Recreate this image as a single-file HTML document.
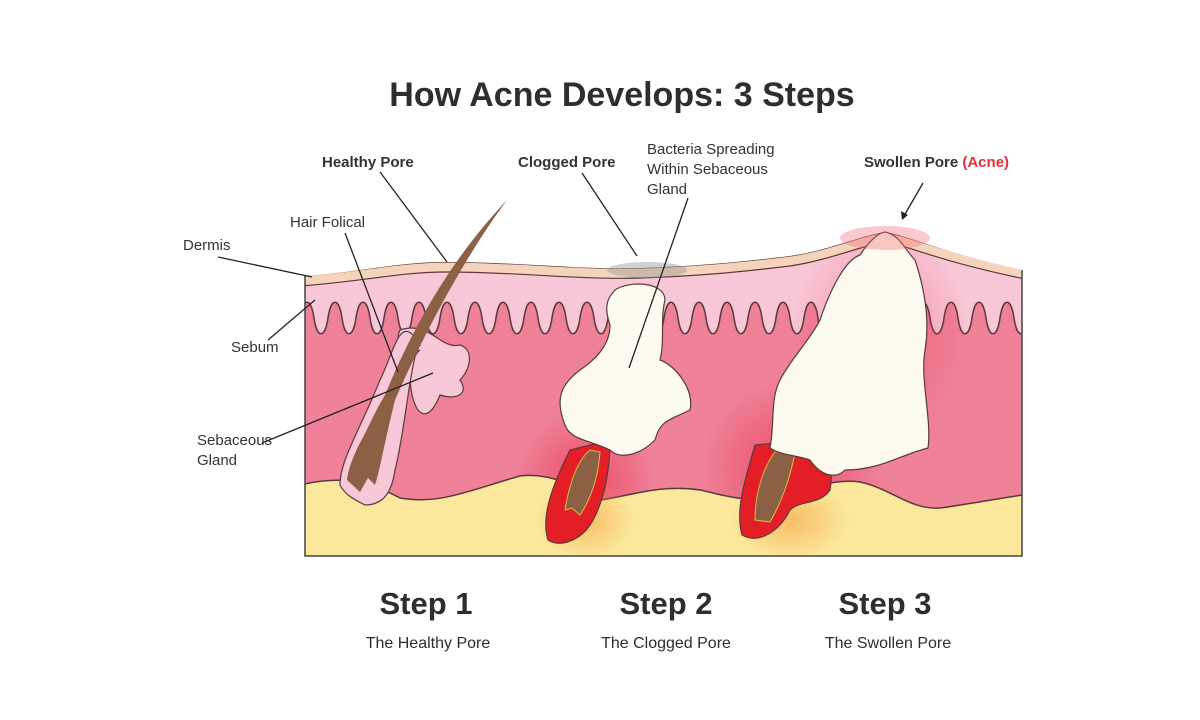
<!DOCTYPE html>
<html><head><meta charset="utf-8"><style>
html,body{margin:0;padding:0;background:#fff;}
svg{display:block;font-family:"Liberation Sans",sans-serif;}
</style></head><body>
<svg width="1200" height="720" viewBox="0 0 1200 720" xmlns="http://www.w3.org/2000/svg">
<defs>
<radialGradient id="glow" cx="0.5" cy="0.5" r="0.5"><stop offset="0" stop-color="#e8203a" stop-opacity="0.55"/><stop offset="1" stop-color="#e8203a" stop-opacity="0"/></radialGradient>
<radialGradient id="yglow" cx="0.5" cy="0.5" r="0.5"><stop offset="0" stop-color="#f5a040" stop-opacity="0.6"/><stop offset="1" stop-color="#f5a040" stop-opacity="0"/></radialGradient>
<clipPath id="box"><path d="M305 276 C360 272 400 262 445 262 C520 262 580 270 640 268 C700 266 740 262 790 256 C830 250 860 236 885 232 C910 236 940 252 1022 270 L1022 556 L305 556 Z"/></clipPath>
</defs>
<rect width="1200" height="720" fill="#fff"/>
<text x="622" y="106" text-anchor="middle" font-size="34" font-weight="bold" fill="#2e2e2e">How Acne Develops: 3 Steps</text>

<g clip-path="url(#box)">
<rect x="300" y="220" width="730" height="340" fill="#f8c8d8"/>
<path d="M300 330 L300 318 c3 -21 11 -21 14 0 c3 21 11 21 14 0 c3 -21 11 -21 14 0 c3 21 11 21 14 0 c3 -21 11 -21 14 0 c3 21 11 21 14 0 c3 -21 11 -21 14 0 c3 21 11 21 14 0 c3 -21 11 -21 14 0 c3 21 11 21 14 0 c3 -21 11 -21 14 0 c3 21 11 21 14 0 c3 -21 11 -21 14 0 c3 21 11 21 14 0 c3 -21 11 -21 14 0 c3 21 11 21 14 0 c3 -21 11 -21 14 0 c3 21 11 21 14 0 c3 -21 11 -21 14 0 c3 21 11 21 14 0 c3 -21 11 -21 14 0 c3 21 11 21 14 0 c3 -21 11 -21 14 0 c3 21 11 21 14 0 c3 -21 11 -21 14 0 c3 21 11 21 14 0 c3 -21 11 -21 14 0 c3 21 11 21 14 0 c3 -21 11 -21 14 0 c3 21 11 21 14 0 c3 -21 11 -21 14 0 c3 21 11 21 14 0 c3 -21 11 -21 14 0 c3 21 11 21 14 0 c3 -21 11 -21 14 0 c3 21 11 21 14 0 c3 -21 11 -21 14 0 c3 21 11 21 14 0 c3 -21 11 -21 14 0 c3 21 11 21 14 0 c3 -21 11 -21 14 0 c3 21 11 21 14 0 c3 -21 11 -21 14 0 c3 21 11 21 14 0 c3 -21 11 -21 14 0 c3 21 11 21 14 0 c3 -21 11 -21 14 0 c3 21 11 21 14 0 c3 -21 11 -21 14 0 c3 21 11 21 14 0 c3 -21 11 -21 14 0 c3 21 11 21 14 0 c3 -21 11 -21 14 0 c3 21 11 21 14 0 c3 -21 11 -21 14 0 c3 21 11 21 14 0 L1040 318 L1040 560 L300 560 Z" fill="#ef8199" stroke="#5a3a3a" stroke-width="1.5"/>
<ellipse cx="585" cy="480" rx="70" ry="70" fill="url(#glow)"/>
<ellipse cx="790" cy="470" rx="90" ry="90" fill="url(#glow)"/>
<ellipse cx="880" cy="330" rx="90" ry="110" fill="url(#glow)" opacity="0.6"/>
<path d="M300 485 C330 478 360 476 400 498 C440 505 470 490 520 476 C550 472 580 488 600 500 C630 496 660 484 700 490 C720 494 740 502 770 498 C800 492 830 478 860 482 C890 488 910 510 940 508 C970 504 1000 498 1030 494 L1030 560 L300 560 Z" fill="#fbe89c" stroke="#5a3a3a" stroke-width="1.5"/>
<ellipse cx="585" cy="520" rx="50" ry="40" fill="url(#yglow)"/>
<ellipse cx="790" cy="520" rx="60" ry="40" fill="url(#yglow)"/>
<path d="M300 276 C360 272 400 262 445 262 C520 262 580 270 640 268 C700 266 740 262 790 256 C830 250 860 236 885 232 C910 236 940 252 1030 270 L1030 280 C940 262 910 246 885 242 C860 246 830 260 790 266 C740 272 700 276 640 278 C580 280 520 272 445 272 C400 272 360 282 300 286 Z" fill="#f6d4bc" stroke="#5a3a3a" stroke-width="1.2"/>
</g>
<path d="M305 276 V556 H1022 V270" fill="none" stroke="#444" stroke-width="1.5"/>

<path d="M400 330 C430 320 440 350 460 345 C475 350 470 370 460 380 C470 395 455 400 440 395 C430 420 418 420 412 395 C405 360 420 350 420 350 C400 360 395 340 400 330 Z" fill="#f8c8d8" stroke="#5a3a3a" stroke-width="1.2"/>
<path d="M418 345 C408 380 405 430 395 470 C392 490 385 505 365 505 C355 500 345 495 340 485 C340 460 360 430 380 380 C395 350 400 310 420 345 Z" fill="#f8c8d8" stroke="#5a3a3a" stroke-width="1.2"/>
<path d="M507 200 C470 250 430 320 395 400 C385 440 375 470 355 480 L348 478 C355 455 370 420 385 395 C420 310 460 250 507 200 Z" fill="#8b6045"/>
<path d="M395 400 C385 440 380 470 375 485 L368 478 L360 492 L347 480 C350 455 370 425 385 400 Z" fill="#8b6045"/>

<path d="M548 540 C540 515 555 480 570 450 L610 440 C610 480 600 510 590 525 C580 540 560 548 548 540 Z" fill="#e41e26" stroke="#5a3a3a" stroke-width="1.2"/>
<path d="M565 510 C570 480 578 460 590 450 L600 452 C598 480 590 500 580 515 L572 508 Z" fill="#8b6045" stroke="#d4c040" stroke-width="1"/>
<path d="M615 290 C630 280 665 282 665 300 C660 320 665 340 660 360 C675 365 695 390 690 410 C670 420 660 420 655 440 C640 455 620 460 610 450 C590 440 570 440 565 425 C555 400 560 385 580 370 C595 360 610 345 610 325 C605 310 605 300 615 290 Z" fill="#fdfbef" stroke="#5a3a3a" stroke-width="1.2"/>
<ellipse cx="647" cy="270" rx="40" ry="8" fill="#999" opacity="0.45"/>

<path d="M742 535 C735 510 745 480 755 445 L805 440 C825 445 835 460 830 490 C820 505 800 500 790 510 C780 530 760 545 742 535 Z" fill="#e41e26" stroke="#5a3a3a" stroke-width="1.2"/>
<path d="M755 520 C755 490 765 465 775 452 L795 452 C790 480 780 505 770 522 Z" fill="#8b6045" stroke="#d4c040" stroke-width="1"/>
<path d="M885 232 C900 235 905 250 915 260 C925 290 930 320 925 350 C920 380 932 420 928 448 C900 455 880 470 845 470 C835 480 820 475 810 460 C795 455 780 455 770 448 C775 420 770 400 780 380 C790 360 810 340 820 320 C830 290 845 260 860 255 C870 240 878 233 885 232 Z" fill="#fdfbef" stroke="#5a3a3a" stroke-width="1.2"/>
<ellipse cx="885" cy="238" rx="45" ry="12" fill="#f06070" opacity="0.35"/>

<g stroke="#222" stroke-width="1.3" fill="none">
<line x1="380" y1="172" x2="447" y2="262"/>
<line x1="345" y1="233" x2="398" y2="372"/>
<line x1="218" y1="257" x2="312" y2="277"/>
<line x1="268" y1="340" x2="315" y2="300"/>
<line x1="262" y1="443" x2="433" y2="373"/>
<line x1="582" y1="173" x2="637" y2="256"/>
<line x1="688" y1="198" x2="629" y2="368"/>
<line x1="923" y1="183" x2="904" y2="216"/>
</g>
<path d="M902 220 l-1 -9 l7 4 Z" fill="#222"/>

<g font-size="15" fill="#333">
<text x="322" y="167" font-weight="bold">Healthy Pore</text>
<text x="290" y="227">Hair Folical</text>
<text x="183" y="250">Dermis</text>
<text x="231" y="352">Sebum</text>
<text x="197" y="445">Sebaceous</text>
<text x="197" y="465">Gland</text>
<text x="518" y="167" font-weight="bold">Clogged Pore</text>
<text x="647" y="154">Bacteria Spreading</text>
<text x="647" y="174">Within Sebaceous</text>
<text x="647" y="194">Gland</text>
<text x="864" y="167" font-weight="bold">Swollen Pore <tspan fill="#e0303a">(Acne)</tspan></text>
</g>
<g text-anchor="middle" fill="#2e2e2e">
<text x="426" y="614" font-size="31" font-weight="bold">Step 1</text>
<text x="666" y="614" font-size="31" font-weight="bold">Step 2</text>
<text x="885" y="614" font-size="31" font-weight="bold">Step 3</text>
<text x="428" y="648" font-size="16">The Healthy Pore</text>
<text x="666" y="648" font-size="16">The Clogged Pore</text>
<text x="888" y="648" font-size="16">The Swollen Pore</text>
</g>
</svg>
</body></html>
